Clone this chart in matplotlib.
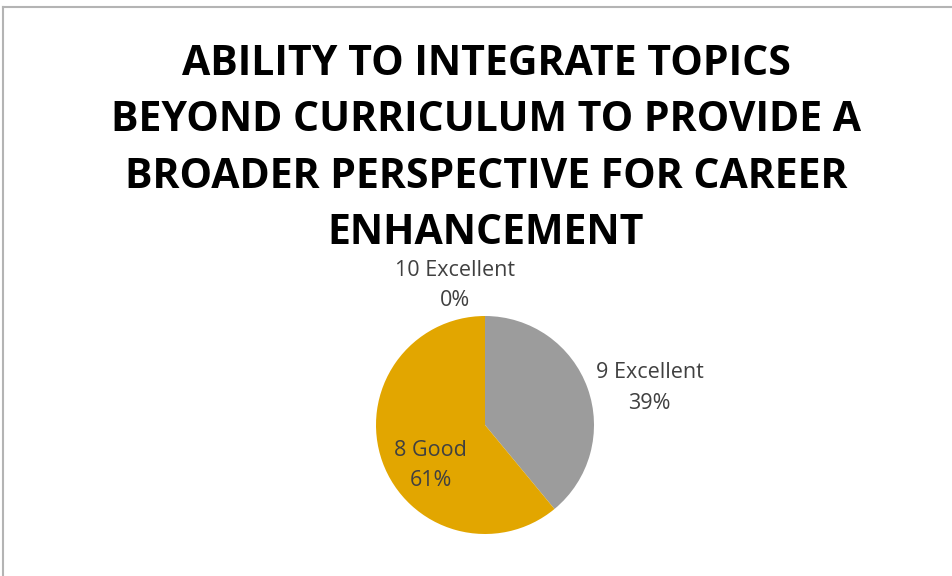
import matplotlib
matplotlib.use("Agg")
import matplotlib.pyplot as plt
from matplotlib.lines import Line2D

categories = ["9 Excellent", "8 Good", "10 Excellent"]
values = [39, 61, 0]
pct_labels = ["39%", "61%", "0%"]
colors = ["#9C9C9C", "#E2A600", "#5B9BD5"]
title = "ABILITY TO INTEGRATE TOPICS\nBEYOND CURRICULUM TO PROVIDE A\nBROADER PERSPECTIVE FOR CAREER\nENHANCEMENT"

W, H = 953, 576
fig = plt.figure(figsize=(W / 100, H / 100), dpi=100)
fig.patch.set_facecolor("white")

# outer chart frame (top and left edges visible)
fig.add_artist(Line2D([3 / W, 1], [1 - 7 / H, 1 - 7 / H], color="#B4B4B4", lw=1.5, transform=fig.transFigure))
fig.add_artist(Line2D([3 / W, 3 / W], [0, 1 - 7 / H], color="#B4B4B4", lw=1.5, transform=fig.transFigure))

fig.text(486 / W, 1 - 149 / H, title, ha="center", va="center", fontsize=29.5,
         fontweight="bold", family="Open Sans", color="#000000", linespacing=1.5)

cx, cy, r = 485, 425, 109
ax = fig.add_axes([(cx - r) / W, (H - cy - r) / H, 2 * r / W, 2 * r / H])
ax.pie(values, colors=colors, startangle=90, counterclock=False, radius=1,
       wedgeprops=dict(linewidth=0))
ax.set_xlim(-1, 1)
ax.set_ylim(-1, 1)
ax.set_aspect("equal")
ax.axis("off")

label_pos = [(1.51, 0.34), (-0.5, -0.37), (-0.275, 1.28)]
for cat, pct, (x, y) in zip(categories, pct_labels, label_pos):
    ax.text(x, y, f"{cat}\n{pct}", ha="center", va="center", fontsize=15.5,
            family="Open Sans", color="#404040", linespacing=1.6, clip_on=False)

fig.savefig("out.png", dpi=100)
